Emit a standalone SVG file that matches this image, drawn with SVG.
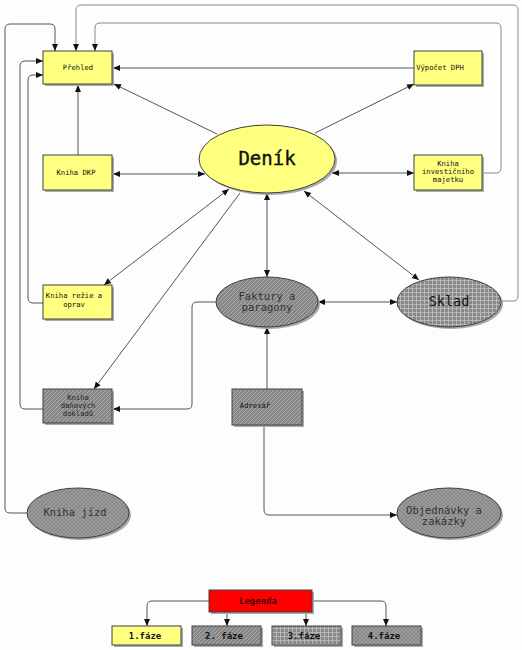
<svg xmlns="http://www.w3.org/2000/svg" width="522" height="650" viewBox="0 0 522 650">
<defs>
<style>
.t{font-family:"DejaVu Sans Mono","Liberation Mono",monospace;font-size:7.2px;fill:#111;text-anchor:middle}
.m{font-family:"DejaVu Sans Mono","Liberation Mono",monospace;font-size:10.5px;fill:#333;text-anchor:middle}
.b{font-family:"DejaVu Sans Mono","Liberation Mono",monospace;font-size:9px;font-weight:bold;fill:#111;text-anchor:middle}
.y{fill:#ffff80;stroke:#404040;stroke-width:1}
.g{fill:url(#diag);stroke:#404040;stroke-width:1}
.gr{fill:url(#grid);stroke:#404040;stroke-width:1}
.cr{fill:url(#cross);stroke:#404040;stroke-width:1}
.sh{fill:#aaaaaa}
.c{fill:none;stroke:#555;stroke-width:1}
.cl{fill:none;stroke:#888;stroke-width:1}
</style>
<pattern id="diag" patternUnits="userSpaceOnUse" width="4" height="4">
<rect width="4" height="4" fill="#878787"/>
<path d="M-1,1 L1,-1 M0,4 L4,0 M3,5 L5,3" stroke="#b4b4b4" stroke-width="0.8"/>
</pattern>
<pattern id="grid" patternUnits="userSpaceOnUse" width="4" height="4">
<rect width="4" height="4" fill="#888"/>
<path d="M0,0.5 H4 M0.5,0 V4" stroke="#c0c0c0" stroke-width="0.8"/>
</pattern>
<pattern id="cross" patternUnits="userSpaceOnUse" width="4" height="4">
<rect width="4" height="4" fill="#888"/>
<path d="M0,4 L4,0 M0,0 L4,4" stroke="#aaa" stroke-width="0.6"/>
</pattern>
<marker id="a" markerUnits="userSpaceOnUse" markerWidth="8" markerHeight="8" refX="7" refY="4" orient="auto-start-reverse">
<path d="M0,1 L7,4 L0,7 z" fill="#111"/>
</marker>
</defs>
<rect width="522" height="650" fill="#fdfdfd"/>

<g id="connectors">
<path class="c" d="M217,134 L114,84" marker-end="url(#a)"/>
<path class="c" d="M414,68 L113,68" marker-end="url(#a)"/>
<path class="c" d="M315,133 L414,84" marker-end="url(#a)"/>
<path class="c" d="M78,155 L78,85" marker-end="url(#a)"/>
<path class="c" d="M113,174 L205,174" marker-start="url(#a)" marker-end="url(#a)"/>
<path class="c" d="M332,173 L414,173" marker-start="url(#a)" marker-end="url(#a)"/>
<path class="cl" d="M482,173 H496 q5,0 5,-5 V28 q0,-5 -5,-5 H100 q-5,0 -5,5 V51" marker-end="url(#a)"/>
<path class="cl" d="M501,301 H513 q5,0 5,-5 V10 q0,-5 -5,-5 H81 q-5,0 -5,5 V51" marker-end="url(#a)"/>
<path class="c" d="M27,513 H10 q-5,0 -5,-5 V29 q0,-5 5,-5 H50 q5,0 5,5 V51" marker-end="url(#a)"/>
<path class="c" d="M43,409 H25 q-5,0 -5,-5 V66 q0,-5 5,-5 H43" marker-end="url(#a)"/>
<path class="c" d="M43,303 H33 q-5,0 -5,-5 V80 q0,-5 5,-5 H43" marker-end="url(#a)"/>
<path class="c" d="M229,189 L104,285" marker-start="url(#a)" marker-end="url(#a)"/>
<path class="c" d="M240,193 L94,389" marker-end="url(#a)"/>
<path class="c" d="M267,193 V277" marker-start="url(#a)" marker-end="url(#a)"/>
<path class="c" d="M304,191 L419,280" marker-start="url(#a)" marker-end="url(#a)"/>
<path class="c" d="M318,302 H397" marker-start="url(#a)" marker-end="url(#a)"/>
<path class="c" d="M216,302 H197 q-5,0 -5,5 V404 q0,5 -5,5 H113" marker-end="url(#a)"/>
<path class="c" d="M267,389 V327" marker-end="url(#a)"/>
<path class="c" d="M264,425 V510 q0,5 5,5 H397" marker-end="url(#a)"/>
<path class="c" d="M209,601 H152 q-5,0 -5,5 V626" marker-end="url(#a)"/>
<path class="c" d="M227,612 V626" marker-end="url(#a)"/>
<path class="c" d="M306,612 V626" marker-end="url(#a)"/>
<path class="c" d="M312,601 H381 q5,0 5,5 V626" marker-end="url(#a)"/>
</g>

<g id="prehled">
<rect class="sh" x="45" y="53" width="69" height="33"/>
<rect class="y" x="43" y="51" width="69" height="33"/>
<text class="t" x="78" y="70">Přehled</text>
</g>
<g id="kniha-dkp">
<rect class="sh" x="45" y="157" width="69" height="35"/>
<rect class="y" x="43" y="155" width="69" height="35"/>
<text class="t" x="76" y="175">Kniha DKP</text>
</g>
<g id="vypocet-dph">
<rect class="sh" x="416" y="53" width="68" height="34"/>
<rect class="y" x="414" y="51" width="68" height="34"/>
<text class="t" x="440" y="70">Výpočet DPH</text>
</g>
<g id="kniha-investicniho-majetku">
<rect class="sh" x="416" y="157" width="68" height="35"/>
<rect class="y" x="414" y="155" width="68" height="35"/>
<text class="t" x="448" y="166">Kniha</text>
<text class="t" x="448" y="174">investičního</text>
<text class="t" x="448" y="182">majetku</text>
</g>
<g id="denik">
<ellipse class="sh" cx="269" cy="161" rx="68" ry="34"/>
<ellipse class="y" cx="267" cy="159" rx="68" ry="34"/>
<text x="267" y="165" text-anchor="middle" font-family="DejaVu Sans Mono, Liberation Mono, monospace" font-size="19" fill="#111" stroke="#111" stroke-width="0.4">Deník</text>
</g>
<g id="kniha-rezie">
<rect class="sh" x="45" y="287" width="69" height="34"/>
<rect class="y" x="43" y="285" width="69" height="34"/>
<text class="t" x="74" y="298">Kniha režie a</text>
<text class="t" x="74" y="307">oprav</text>
</g>
<g id="kniha-danovych-dokladu">
<rect class="sh" x="45" y="391" width="69" height="34"/>
<rect class="g" x="43" y="389" width="69" height="34"/>
<text class="t" x="78" y="400" style="fill:#222">Kniha</text>
<text class="t" x="78" y="408" style="fill:#222">daňových</text>
<text class="t" x="78" y="416" style="fill:#222">dokladů</text>
</g>
<g id="faktury">
<ellipse class="sh" cx="269" cy="304" rx="51" ry="25"/>
<ellipse class="g" cx="267" cy="302" rx="51" ry="25"/>
<text class="m" x="267" y="300">Faktury a</text>
<text class="m" x="267" y="311">paragony</text>
</g>
<g id="sklad">
<ellipse class="sh" cx="451" cy="304" rx="52" ry="25"/>
<ellipse class="gr" cx="449" cy="302" rx="52" ry="25"/>
<text class="m" x="449" y="306" style="font-size:13.5px;fill:#111">Sklad</text>
</g>
<g id="adresar">
<rect class="sh" x="234" y="391" width="70" height="36"/>
<rect class="g" x="232" y="389" width="70" height="36"/>
<text class="t" x="255" y="408">Adresář</text>
</g>
<g id="kniha-jizd">
<ellipse class="sh" cx="80" cy="515" rx="51" ry="25"/>
<ellipse class="cr" cx="78" cy="513" rx="51" ry="25"/>
<text class="m" x="75" y="516">Kniha jízd</text>
</g>
<g id="objednavky">
<ellipse class="sh" cx="451" cy="515" rx="52" ry="25"/>
<ellipse class="cr" cx="449" cy="513" rx="52" ry="25"/>
<text class="m" x="444" y="514">Objednávky a</text>
<text class="m" x="444" y="525">zakázky</text>
</g>

<g id="legenda">
<rect class="sh" x="211" y="592" width="103" height="22"/>
<rect x="209" y="590" width="103" height="22" fill="#ff0000" stroke="#404040"/>
<text class="b" x="258" y="604" style="fill:#400">Legenda</text>
</g>
<g id="faze1">
<rect class="sh" x="114" y="628" width="69" height="19"/>
<rect class="y" x="112" y="626" width="69" height="19"/>
<text class="b" x="145" y="639">1.fáze</text>
</g>
<g id="faze2">
<rect class="sh" x="194" y="628" width="69" height="19"/>
<rect class="g" x="192" y="626" width="69" height="19"/>
<text class="b" x="224" y="639">2. fáze</text>
</g>
<g id="faze3">
<rect class="sh" x="274" y="628" width="69" height="19"/>
<rect class="gr" x="272" y="626" width="69" height="19"/>
<text class="b" x="304" y="639">3.fáze</text>
</g>
<g id="faze4">
<rect class="sh" x="354" y="628" width="69" height="19"/>
<rect class="cr" x="352" y="626" width="69" height="19"/>
<text class="b" x="384" y="639">4.fáze</text>
</g>
</svg>
